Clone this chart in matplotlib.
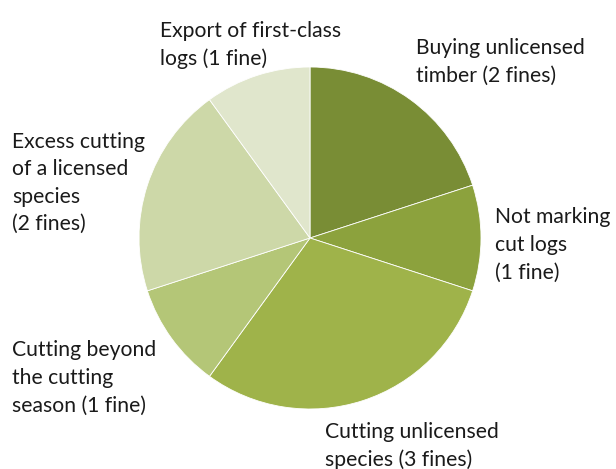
import matplotlib
matplotlib.use('Agg')
import matplotlib.pyplot as plt
import matplotlib.font_manager as fm

# data
labels = [
    'Buying unlicensed\ntimber (2 fines)',
    'Not marking\ncut logs\n(1 fine)',
    'Cutting unlicensed\nspecies (3 fines)',
    'Cutting beyond\nthe cutting\nseason (1 fine)',
    'Excess cutting\nof a licensed\nspecies\n(2 fines)',
    'Export of first-class\nlogs (1 fine)',
]
fines = [2, 1, 3, 1, 2, 1]
colors = ['#798d35', '#8ca23d', '#9fb34a', '#b4c677', '#cdd8a8', '#e0e6cc']

# label anchors in pixels (left edge, vertical centre from top)
label_pos = [(416, 62), (495, 245), (325, 446), (12, 378), (12, 183), (160, 45)]

names = {f.name for f in fm.fontManager.ttflist}
family = 'Lato' if 'Lato' in names else 'DejaVu Sans'
plt.rcParams['font.family'] = [family, 'DejaVu Sans']

W, H = 616, 469
fig = plt.figure(figsize=(W / 100, H / 100), dpi=100)
ax = fig.add_axes([0, 0, 1, 1])
ax.axis('off')

ax.pie(fines, colors=colors, startangle=90, counterclock=False,
       center=(310, H - 238), radius=171,
       wedgeprops=dict(linewidth=0.6, edgecolor='white'))
ax.set_xlim(0, W)
ax.set_ylim(0, H)

for text, (x, y) in zip(labels, label_pos):
    ax.text(x, H - y, text, ha='left', va='center', fontsize=15.2,
            color='#1a1a1a', linespacing=1.47)

fig.savefig('out.png', dpi=100, facecolor='white')
